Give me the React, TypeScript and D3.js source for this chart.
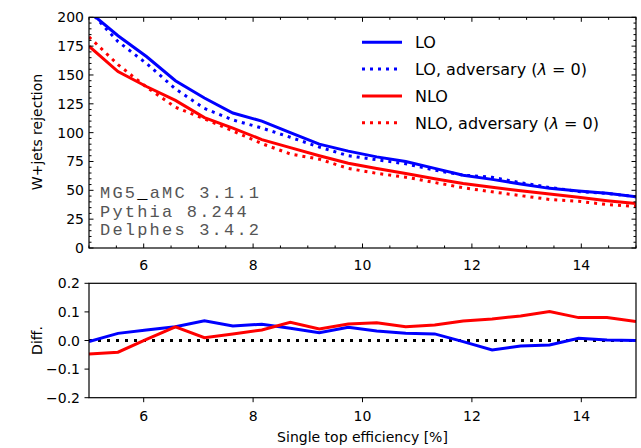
import React from "react";
import * as d3 from "d3";

const effX = [5.0, 5.53, 6.05, 6.58, 7.11, 7.63, 8.16, 8.68, 9.21, 9.74, 10.26, 10.79, 11.32, 11.84, 12.37, 12.89, 13.42, 13.95, 14.47, 15.0];
const loVals = [205, 184, 166, 145, 130, 117, 110, 100, 90, 84, 79, 75, 69, 63, 59.5, 55.5, 51.7, 49.4, 47.4, 44.5];
const loAdvVals = [206, 179, 160, 138, 121, 111, 104, 96, 87.5, 80, 76.5, 73, 67.5, 63.2, 61.3, 56.6, 52.5, 49, 47.3, 44.5];
const nloVals = [175, 153, 140, 128, 113, 104, 94, 87, 80, 73.5, 69, 64.5, 60, 56, 52.6, 49.7, 46.8, 44, 41, 38.5];
const nloAdvVals = [183, 159, 139.5, 122, 112, 101.5, 90.5, 81.5, 77, 69, 64.7, 61.4, 56.8, 52.2, 48.7, 45.4, 42.1, 40.5, 37.7, 36];
const loDiff = [-0.004, 0.025, 0.037, 0.048, 0.069, 0.051, 0.057, 0.043, 0.027, 0.046, 0.033, 0.025, 0.023, -0.004, -0.033, -0.019, -0.016, 0.008, 0.002, 0.0];
const nloDiff = [-0.047, -0.041, 0.004, 0.048, 0.01, 0.023, 0.037, 0.064, 0.04, 0.058, 0.062, 0.048, 0.054, 0.068, 0.075, 0.086, 0.101, 0.08, 0.08, 0.066];

const xTicks = [6, 8, 10, 12, 14];
const topYTicks = [0, 25, 50, 75, 100, 125, 150, 175, 200];
const botYTicks = [-0.2, -0.1, 0.0, 0.1, 0.2];
const legendItems = [
  { label: "LO", color: "#0000ff", dotted: false },
  { label: "LO, adversary", color: "#0000ff", dotted: true },
  { label: "NLO", color: "#ff0000", dotted: false },
  { label: "NLO, adversary", color: "#ff0000", dotted: true },
];
const infoLines = ["MG5_aMC 3.1.1", "Pythia 8.244", "Delphes 3.4.2"];

const FONT = "DejaVu Sans, sans-serif";
const L = 89, R = 636;
const T1 = 17.3, B1 = 248;
const T2 = 283.3, B2 = 397.7;

export default function App() {
  const x = d3.scaleLinear().domain([5, 15]).range([L, R]);
  const y1 = d3.scaleLinear().domain([0, 200]).range([B1, T1]);
  const y2 = d3.scaleLinear().domain([-0.2, 0.2]).range([B2, T2]);

  const line1 = (vals: number[]) =>
    d3.line<number>().x((_, i) => x(effX[i])).y((d) => y1(d))(vals) || "";
  const line2 = (vals: number[]) =>
    d3.line<number>().x((_, i) => x(effX[i])).y((d) => y2(d))(vals) || "";

  const minorX = d3.range(5, 15.001, 0.5).filter((v) => !xTicks.includes(v));
  const minorY = d3.range(0, 200.001, 5).filter((v) => v % 25 !== 0);

  const fmtBot = (v: number) => {
    const s = Math.abs(v).toFixed(1);
    return v < -1e-9 ? "\u2212" + s : s;
  };

  const renderInfo = (s: string) => {
    const parts = s.split("_");
    if (parts.length === 1) return s;
    return (
      <>
        {parts[0]}
        <tspan fill="#000">_</tspan>
        {parts[1]}
      </>
    );
  };

  return (
    <svg width={641} height={448} style={{ position: "absolute", left: 0, top: 0 }} fontFamily={FONT}>
      <rect x={0} y={0} width={641} height={448} fill="#fff" />
      <defs>
        <clipPath id="c1"><rect x={L} y={T1} width={R - L} height={B1 - T1} /></clipPath>
        <clipPath id="c2"><rect x={L} y={T2} width={R - L} height={B2 - T2} /></clipPath>
      </defs>

      {/* Top panel lines */}
      <g clipPath="url(#c1)" fill="none" strokeWidth={3}>
        <path d={line1(loVals)} stroke="#0000ff" />
        <path d={line1(loAdvVals)} stroke="#0000ff" strokeDasharray="3,5" />
        <path d={line1(nloVals)} stroke="#ff0000" />
        <path d={line1(nloAdvVals)} stroke="#ff0000" strokeDasharray="3,5" />
      </g>

      {/* Top panel frame & ticks */}
      <rect x={L} y={T1} width={R - L} height={B1 - T1} fill="none" stroke="#000" strokeWidth={1.2} />
      {xTicks.map((t) => (
        <g key={"tx" + t}>
          <line x1={x(t)} x2={x(t)} y1={B1} y2={B1 - 4.5} stroke="#000" />
          <line x1={x(t)} x2={x(t)} y1={T1} y2={T1 + 4.5} stroke="#000" />
          <text x={x(t)} y={270} fontSize={14} textAnchor="middle">{t}</text>
        </g>
      ))}
      {minorX.map((t) => (
        <g key={"mx" + t}>
          <line x1={x(t)} x2={x(t)} y1={B1} y2={B1 - 2.5} stroke="#000" />
          <line x1={x(t)} x2={x(t)} y1={T1} y2={T1 + 2.5} stroke="#000" />
        </g>
      ))}
      {topYTicks.map((t) => (
        <g key={"ty" + t}>
          <line x1={L} x2={L + 4.5} y1={y1(t)} y2={y1(t)} stroke="#000" />
          <line x1={R} x2={R - 4.5} y1={y1(t)} y2={y1(t)} stroke="#000" />
          <text x={84} y={y1(t) + 5} fontSize={14} textAnchor="end">{t}</text>
        </g>
      ))}
      {minorY.map((t) => (
        <g key={"my" + t}>
          <line x1={L} x2={L + 2.5} y1={y1(t)} y2={y1(t)} stroke="#000" />
          <line x1={R} x2={R - 2.5} y1={y1(t)} y2={y1(t)} stroke="#000" />
        </g>
      ))}
      <text transform="translate(42,132) rotate(-90)" fontSize={14} textAnchor="middle">W+jets rejection</text>

      {/* Legend */}
      {legendItems.map((it, i) => {
        const ly = 42.3 + i * 26.8;
        return (
          <g key={it.label}>
            <line x1={362} x2={402} y1={ly} y2={ly} stroke={it.color} strokeWidth={3}
              strokeDasharray={it.dotted ? "3,5" : undefined} />
            <text x={415} y={ly + 6} fontSize={16}>
              {it.label}
              {it.dotted ? (
                <>
                  {" ("}
                  <tspan fontStyle="italic">λ</tspan>
                  {" = 0)"}
                </>
              ) : null}
            </text>
          </g>
        );
      })}

      {/* Info text */}
      {infoLines.map((s, i) => (
        <text key={s} x={100} y={198.3 + i * 18.3} fontSize={17} letterSpacing={2.2} fill="#555"
          fontFamily="Liberation Mono, Courier New, monospace">{renderInfo(s)}</text>
      ))}

      {/* Bottom panel */}
      <line x1={L} x2={R} y1={y2(0)} y2={y2(0)} stroke="#000" strokeWidth={3} strokeDasharray="3,6" />
      <g clipPath="url(#c2)" fill="none" strokeWidth={3}>
        <path d={line2(loDiff)} stroke="#0000ff" />
        <path d={line2(nloDiff)} stroke="#ff0000" />
      </g>
      <rect x={L} y={T2} width={R - L} height={B2 - T2} fill="none" stroke="#000" strokeWidth={1.2} />
      {xTicks.map((t) => (
        <g key={"bx" + t}>
          <line x1={x(t)} x2={x(t)} y1={B2} y2={B2 + 4.5} stroke="#000" />
          <text x={x(t)} y={420.7} fontSize={14} textAnchor="middle">{t}</text>
        </g>
      ))}
      {botYTicks.map((t) => (
        <g key={"by" + t}>
          <line x1={L} x2={L - 4.5} y1={y2(t)} y2={y2(t)} stroke="#000" />
          <text x={80} y={y2(t) + 5} fontSize={14} textAnchor="end">{fmtBot(t)}</text>
        </g>
      ))}
      <text transform="translate(42,340.5) rotate(-90)" fontSize={14} textAnchor="middle">Diff.</text>
      <text x={362.5} y={442} fontSize={14} textAnchor="middle">Single top efficiency [%]</text>
    </svg>
  );
}
